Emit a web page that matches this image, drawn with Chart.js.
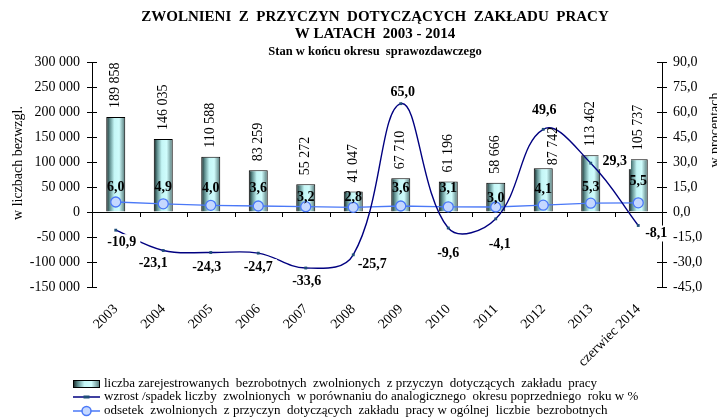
<!DOCTYPE html>
<html>
<head>
<meta charset="utf-8">
<script src="https://cdn.jsdelivr.net/npm/chart.js@4.4.1/dist/chart.umd.min.js"></script>
<style>
  html, body { margin: 0; padding: 0; background: #fff; }
  canvas { display: block; }
</style>
</head>
<body>
<canvas id="chart" width="717" height="419"></canvas>
<script>
// data
var categories = ['2003', '2004', '2005', '2006', '2007', '2008', '2009', '2010', '2011', '2012', '2013', 'czerwiec 2014'];
var dismissed = [189858, 146035, 110588, 83259, 55272, 41047, 67710, 61196, 58666, 87742, 113462, 105737];
var changePct = [-10.9, -23.1, -24.3, -24.7, -33.6, -25.7, 65.0, -9.6, -4.1, 49.6, 29.3, -8.1];
var sharePct = [6.0, 4.9, 4.0, 3.6, 3.2, 2.8, 3.6, 3.1, 3.0, 4.1, 5.3, 5.5];

var leftAxis = [-150000, 300000, 50000];   // min, max, step
var rightAxis = [-45, 90, 15];

var titleLines = [
  'ZWOLNIENI  Z  PRZYCZYN  DOTYCZĄCYCH  ZAKŁADU  PRACY',
  'W LATACH  2003 - 2014',
  'Stan w końcu okresu  sprawozdawczego'
];
var legendTexts = [
  'liczba zarejestrowanych  bezrobotnych  zwolnionych  z przyczyn  dotyczących  zakładu  pracy',
  'wzrost /spadek liczby  zwolnionych  w porównaniu do analogicznego  okresu poprzedniego  roku w %',
  'odsetek  zwolnionych  z przyczyn  dotyczących  zakładu  pracy w ogólnej  liczbie  bezrobotnych'
];

// label placement (pixels, relative to the point)
var changeLabelShift = [[6, 12], [-10, 13], [-4, 15], [0, 14], [1, 13], [19, 10], [2, -11], [0, 25], [4, 26], [1, -19], [24, -2], [18, 8]];
var shareLabelShift = [-15, -16, -17, -18, -9, -10, -18, -18, -9, -16, -16, -21];
var valueLabelShift = [[0, 0], [0, 0], [0, 0], [0, 0], [0, 0], [0, 0], [0, 0], [0, 0], [0, 0], [10, 6], [0, 0], [0, 0]];

var SERIF = '"Liberation Serif", "Times New Roman", serif';

function spaced(v) {
  var s = String(Math.abs(v)).replace(/\B(?=(\d{3})+(?!\d))/g, ' ');
  return (v < 0 ? '-' : '') + s;
}
function comma(v) {
  return v.toFixed(1).replace('.', ',');
}

function barGradient(ctx, x0, x1) {
  var g = ctx.createLinearGradient(x0, 0, x1, 0);
  g.addColorStop(0, '#0f1d1d');
  g.addColorStop(0.18, '#5d8c8c');
  g.addColorStop(0.42, '#c4f6f6');
  g.addColorStop(0.68, '#cffcfc');
  g.addColorStop(1, '#4e7272');
  return g;
}

var decorPlugin = {
  id: 'decor',
  beforeDraw: function(chart) {
    var ctx = chart.ctx;
    ctx.save();
    ctx.fillStyle = '#fff';
    ctx.fillRect(0, 0, chart.width, chart.height);
    ctx.restore();
  },
  beforeDatasetsDraw: function(chart) {
    var ctx = chart.ctx, a = chart.chartArea;
    var y0 = chart.scales.y.getPixelForValue(0);
    var step = (a.right - a.left) / categories.length;
    ctx.save();
    ctx.strokeStyle = '#000';
    ctx.lineWidth = 1;
    ctx.beginPath();
    ctx.moveTo(a.left, Math.round(y0) + 0.5);
    ctx.lineTo(a.right, Math.round(y0) + 0.5);
    for (var i = 1; i < categories.length; i++) {
      var x = Math.round(a.left + i * step) + 0.5;
      ctx.moveTo(x, y0);
      ctx.lineTo(x, y0 + 5);
    }
    // inner halves of the value axis ticks
    [chart.scales.y, chart.scales.y1].forEach(function(s) {
      var ax = s.id === 'y' ? a.left : a.right;
      var dir = s.id === 'y' ? 1 : -1;
      s.ticks.forEach(function(t) {
        var ty = Math.round(s.getPixelForValue(t.value)) + 0.5;
        ctx.moveTo(ax, ty);
        ctx.lineTo(ax + dir * 5, ty);
      });
    });
    ctx.stroke();
    ctx.restore();
  },
  afterDatasetsDraw: function(chart) {
    var ctx = chart.ctx;
    var bars = chart.getDatasetMeta(0).data;
    var change = chart.getDatasetMeta(1).data;
    var share = chart.getDatasetMeta(2).data;
    ctx.save();
    ctx.fillStyle = '#000';

    // values above the bars, turned upright
    ctx.font = '14px ' + SERIF;
    ctx.textAlign = 'left';
    ctx.textBaseline = 'middle';
    bars.forEach(function(b, i) {
      ctx.save();
      ctx.translate(b.x + valueLabelShift[i][0], b.y - 9 + valueLabelShift[i][1]);
      ctx.rotate(-Math.PI / 2);
      ctx.fillText(spaced(dismissed[i]), 0, 0);
      ctx.restore();
    });

    // share labels
    ctx.font = 'bold 14px ' + SERIF;
    ctx.textAlign = 'center';
    share.forEach(function(p, i) {
      ctx.fillText(comma(sharePct[i]), p.x, p.y + shareLabelShift[i]);
    });

    // change labels on white boxes
    change.forEach(function(p, i) {
      var txt = comma(changePct[i]);
      var cx = p.x + changeLabelShift[i][0], cy = p.y + changeLabelShift[i][1];
      var w = ctx.measureText(txt).width;
      ctx.fillStyle = '#fff';
      ctx.fillRect(cx - w / 2 - 4, cy - 8, w + 8, 16);
      ctx.fillStyle = '#000';
      ctx.fillText(txt, cx, cy);
    });
    ctx.restore();
  },
  afterDraw: function(chart) {
    var ctx = chart.ctx;
    ctx.save();
    ctx.fillStyle = '#000';
    ctx.textAlign = 'center';
    ctx.textBaseline = 'middle';
    ctx.font = 'bold 15px ' + SERIF;
    ctx.fillText(titleLines[0], 375, 17);
    ctx.fillText(titleLines[1], 375, 34);
    ctx.font = 'bold 12.5px ' + SERIF;
    ctx.fillText(titleLines[2], 375, 52);

    // axis titles
    ctx.font = '14px ' + SERIF;
    ctx.save();
    ctx.translate(18, 163);
    ctx.rotate(-Math.PI / 2);
    ctx.fillText('w liczbach bezwzgl.', 0, 0);
    ctx.restore();
    ctx.save();
    ctx.translate(715, 130);
    ctx.rotate(-Math.PI / 2);
    ctx.fillText('w procentach', 0, 0);
    ctx.restore();

    // legend
    var lx = 73, lw = 27, tx = 104;
    var rows = [384, 397, 411];
    ctx.font = '13px ' + SERIF;
    ctx.textAlign = 'left';
    ctx.fillStyle = barGradient(ctx, lx, lx + lw);
    ctx.fillRect(lx, rows[0] - 3.5, lw, 7);
    ctx.strokeStyle = '#000';
    ctx.lineWidth = 1;
    ctx.strokeRect(lx + 0.5, rows[0] - 3.5, lw - 1, 7);

    ctx.strokeStyle = '#000080';
    ctx.lineWidth = 1.5;
    ctx.beginPath();
    ctx.moveTo(lx, rows[1]);
    ctx.lineTo(lx + lw, rows[1]);
    ctx.stroke();
    ctx.fillStyle = '#1f4e79';
    ctx.fillRect(lx + lw / 2 - 3, rows[1] - 1.5, 6, 3);

    ctx.strokeStyle = '#4a78f7';
    ctx.beginPath();
    ctx.moveTo(lx, rows[2]);
    ctx.lineTo(lx + lw, rows[2]);
    ctx.stroke();
    ctx.fillStyle = '#c5d8ff';
    ctx.beginPath();
    ctx.arc(lx + lw / 2, rows[2], 4.5, 0, Math.PI * 2);
    ctx.fill();
    ctx.stroke();

    ctx.fillStyle = '#000';
    legendTexts.forEach(function(t, i) {
      ctx.fillText(t, tx, rows[i]);
    });
    ctx.restore();
  }
};

new Chart(document.getElementById('chart'), {
  type: 'bar',
  data: {
    labels: categories,
    datasets: [{
      type: 'bar',
      label: legendTexts[0],
      data: dismissed,
      yAxisID: 'y',
      order: 3,
      barPercentage: 0.5,
      categoryPercentage: 0.8,
      borderColor: '#000',
      borderWidth: 1,
      backgroundColor: function(c) {
        var x = c.chart.scales.x;
        if (!x || !c.chart.chartArea) return '#bff';
        var center = x.getPixelForValue(c.dataIndex);
        var half = x.width / categories.length * 0.4 / 2;
        return barGradient(c.chart.ctx, center - half, center + half);
      }
    }, {
      type: 'line',
      label: legendTexts[1],
      data: changePct,
      yAxisID: 'y1',
      order: 1,
      borderColor: '#000080',
      borderWidth: 1.4,
      tension: 0.4,
      pointStyle: 'rect',
      pointRadius: 2,
      pointBorderWidth: 0,
      pointBackgroundColor: '#1f4e79'
    }, {
      type: 'line',
      label: legendTexts[2],
      data: sharePct,
      yAxisID: 'y1',
      order: 2,
      borderColor: '#4a78f7',
      borderWidth: 1.4,
      tension: 0,
      pointStyle: 'circle',
      pointRadius: 5,
      pointBorderWidth: 1.3,
      pointBorderColor: '#4a78f7',
      pointBackgroundColor: '#c5d8ff'
    }]
  },
  options: {
    responsive: false,
    animation: false,
    devicePixelRatio: 1,
    layout: { padding: { top: 62, left: 0, right: 0, bottom: 0 } },
    plugins: {
      legend: { display: false },
      title: { display: false },
      tooltip: { enabled: false }
    },
    scales: {
      x: {
        offset: true,
        grid: { display: false },
        border: { display: false },
        ticks: {
          color: '#000',
          font: { family: SERIF, size: 14 },
          minRotation: 45,
          maxRotation: 45,
          padding: 6
        },
        afterFit: function(s) { s.height = 132; }
      },
      y: {
        position: 'left',
        min: leftAxis[0],
        max: leftAxis[1],
        grid: { drawOnChartArea: false, color: '#000', tickLength: 5 },
        border: { color: '#000', width: 1 },
        ticks: {
          stepSize: leftAxis[2],
          color: '#000',
          padding: 7,
          font: { family: SERIF, size: 14 },
          callback: function(v) { return spaced(v); }
        },
        afterFit: function(s) { s.width = 92; }
      },
      y1: {
        position: 'right',
        min: rightAxis[0],
        max: rightAxis[1],
        grid: { drawOnChartArea: false, color: '#000', tickLength: 5 },
        border: { color: '#000', width: 1 },
        ticks: {
          stepSize: rightAxis[2],
          color: '#000',
          padding: 6,
          font: { family: SERIF, size: 14 },
          callback: function(v) { return comma(v); }
        },
        afterFit: function(s) { s.width = 55; }
      }
    }
  },
  plugins: [decorPlugin]
});
</script>
</body>
</html>
